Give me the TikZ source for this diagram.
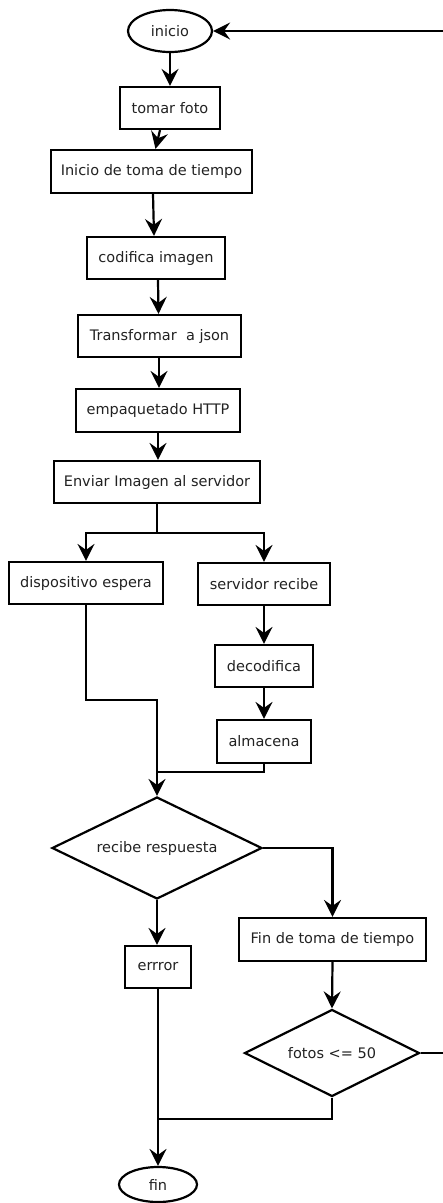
\documentclass[tikz,border=0pt]{standalone}
\usepackage{fontspec}
\setmainfont{DejaVu Sans}
\usetikzlibrary{shapes.geometric,arrows.meta}
\definecolor{txt}{HTML}{222222}
\tikzset{
  base/.style={draw=black, line width=2.2pt, inner sep=0pt, text=txt,
    font=\fontsize{14.5}{16}\selectfont},
  box/.style={base, rectangle, minimum height=42},
  oval/.style={base, ellipse},
  decide/.style={base, diamond, shape aspect=2},
  conn/.style={line width=2.2pt, draw=black},
  arr/.style={conn, -{Stealth[length=17pt,width=17pt,inset=6pt]}}
}
\begin{document}
\begin{tikzpicture}[x=1pt,y=-1pt]
\clip (0,0) rectangle (443,1203);
\fill[white] (0,0) rectangle (443,1203);

\node[oval, minimum width=84, minimum height=42] (ini) at (170,31) {inicio};
\node[box, minimum width=100] (tom) at (170,108) {tomar foto};
\node[box, minimum width=201, minimum height=43] (itt) at (151.5,171.5) {Inicio de toma de tiempo};
\node[box, minimum width=138] (cod) at (156,258) {codifica imagen};
\node[box, minimum width=163] (tra) at (159.5,336) {Transformar \ a json};
\node[box, minimum width=164, minimum height=43] (emp) at (158,410.5) {empaquetado HTTP};
\node[box, minimum width=206] (env) at (157,482) {Enviar Imagen al servidor};
\node[box, minimum width=154] (dis) at (86,583) {dispositivo espera};
\node[box, minimum width=132] (ser) at (264,584) {servidor recibe};
\node[box, minimum width=98] (dec) at (264,666) {decodifica};
\node[box, minimum width=94, minimum height=43] (alm) at (264,741.5) {almacena};
\node[decide, minimum width=210, minimum height=102] (rec) at (157,848) {recibe respuesta};
\node[box, minimum width=187, minimum height=43] (ftt) at (332.5,939.5) {Fin de toma de tiempo};
\node[box, minimum width=66] (err) at (158,967) {errror};
\node[decide, minimum width=175, minimum height=87] (fot) at (332,1053) {fotos <= 50};
\node[oval, minimum width=78, minimum height=35] (fin) at (158,1184.5) {fin};

\coordinate (split) at (157,533);
\coordinate (j1) at (157,700);
\coordinate (j2) at (157,772);
\coordinate (j3) at (158,1119);
\coordinate (r1) at (452,1053);
\coordinate (r2) at (452,31);

\draw[arr] (ini) -- (tom);
\draw[arr] ([xshift=-10]tom.south) -- ([xshift=4]itt.north);
\draw[arr] ([xshift=1.5]itt.south) -- ([xshift=-2]cod.north);
\draw[arr] ([xshift=2]cod.south) -- ([xshift=-1]tra.north);
\draw[arr] ([xshift=-0.5]tra.south) -- ([xshift=1]emp.north);
\draw[arr] (emp.south) -- ([xshift=1]env.north);
\draw[conn] (env.south) -- (split);
\draw[arr] (split) -| (dis.north);
\draw[arr] (split) -| (ser.north);
\draw[arr] (ser) -- (dec);
\draw[arr] (dec) -- (alm);
\draw[arr] (dis.south) |- (j1) -- (rec.north);
\draw[conn] (alm.south) |- (j2);
\draw[arr] (rec.east) -| (ftt.north);
\draw[arr] (rec.south) -- (rec.south |- err.north);
\draw[arr] (err.south) -- (fin.north);
\draw[arr] (ftt.south) -- (fot.north);
\draw[conn] (fot.south) |- (j3);
\draw[arr] (fot.east) -- (r1) -- (r2) -- (ini.east);
\end{tikzpicture}
\end{document}
